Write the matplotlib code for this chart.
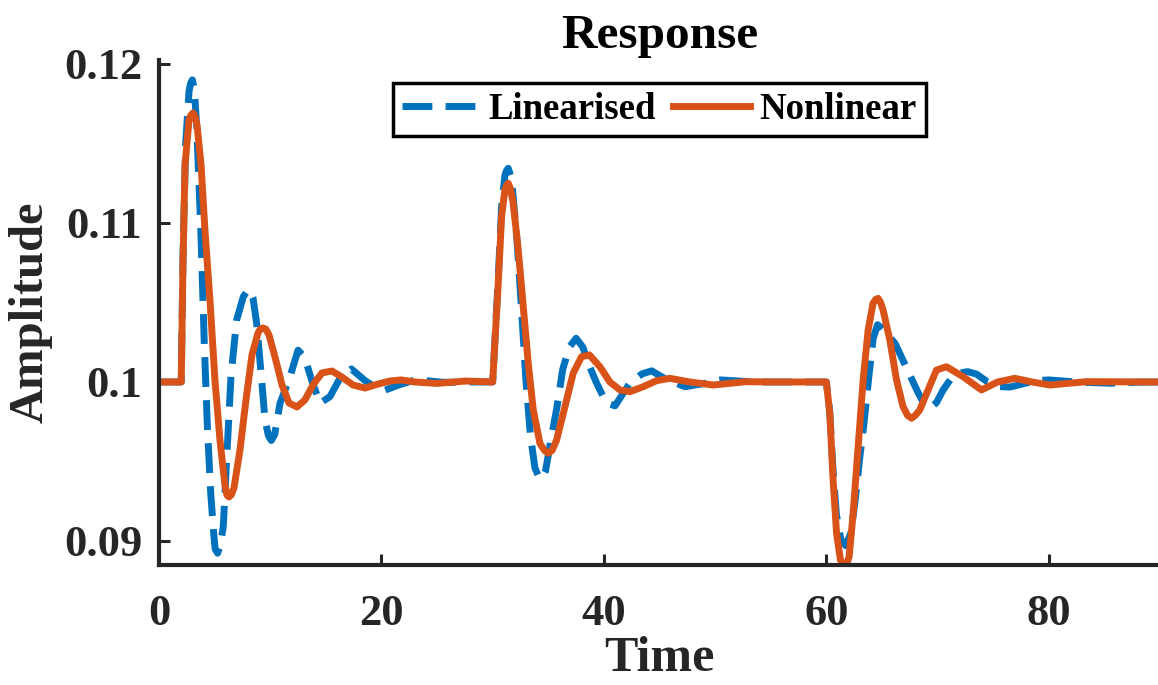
import matplotlib
matplotlib.use('Agg')
import matplotlib.pyplot as plt

# Valores: cada trecho começa num degrau da entrada (t = 2, 30, 60)

# Linearised
t_lin_1 = [0, 2.0, 2.16, 2.4, 2.7, 2.85, 3.0, 3.18, 3.39, 3.75, 4.07, 4.35,
           4.65, 4.94, 5.05, 5.27, 5.5, 5.78, 6.08, 6.47, 6.98, 7.58, 7.9, 8.18,
           8.45, 8.78, 9.23, 9.53, 9.85, 10.1, 10.4, 10.88, 11.78, 12.5, 13.1,
           13.72, 14.47, 15.37, 16.4, 17.3, 18.5, 20.0, 21.5, 23.1, 25.5, 28.0]
y_lin_1 = [0.1, 0.1, 0.1080, 0.1150, 0.1183, 0.1188, 0.1190, 0.1184, 0.11606, 0.10977, 0.10243, 0.09719,
           0.0930, 0.09027, 0.0895, 0.08923, 0.0897, 0.0909, 0.0951, 0.10033, 0.1039, 0.10536, 0.1057, 0.10579,
           0.1053, 0.10369, 0.10013, 0.09761, 0.0966, 0.09632, 0.0967, 0.09866, 0.10033, 0.1020, 0.10155,
           0.10013, 0.09866, 0.09908, 0.1004, 0.10082, 0.1001, 0.0994, 0.0998, 0.10015, 0.09998, 0.1]

t_lin_2 = [30.0, 30.5, 30.8, 31.1, 31.25, 31.4, 31.6, 31.8, 32.2, 32.6, 33.0, 33.4,
           33.8, 34.1, 34.4, 34.75, 35.2, 35.8, 36.3, 36.9, 37.5, 38.1, 38.7, 39.3,
           40.2, 41.0, 42.3, 43.4, 44.3, 45.5, 47.3, 49.0, 50.5, 53.5]
y_lin_2 = [0.1, 0.1065, 0.1110, 0.1130, 0.1133, 0.11344, 0.1130, 0.1120, 0.1088, 0.1045, 0.1000, 0.0966,
           0.0946, 0.0941, 0.0939, 0.0944, 0.0962, 0.0985, 0.1008, 0.1022, 0.10275, 0.1022, 0.1010, 0.1000,
           0.0987, 0.0985, 0.0999, 0.1005, 0.1007, 0.1002, 0.0997, 0.0999, 0.10013, 0.1]

t_lin_3 = [60.0, 60.3, 60.6, 60.9, 61.3, 61.75, 62.2, 62.6, 63.0, 63.4,
           63.8, 64.2, 64.6, 65.0, 65.5, 66.2, 66.8, 67.4, 68.2, 68.8,
           69.3, 69.9, 70.5, 71.2, 71.9, 72.7, 73.5, 74.5, 75.6, 76.5,
           77.5, 78.8, 80.0, 82.5, 85.5, 88.0, 90.0]
y_lin_3 = [0.1, 0.0982, 0.0945, 0.0917, 0.0901, 0.0897, 0.0905, 0.0926, 0.0952, 0.0975,
           0.1002, 0.1027, 0.1036, 0.1034, 0.1030, 0.1024, 0.1015, 0.1006, 0.0994, 0.0986,
           0.09834, 0.0987, 0.0995, 0.1002, 0.10055, 0.10065, 0.1005, 0.1000, 0.09971, 0.09968,
           0.09985, 0.10008, 0.10013, 0.1000, 0.09992, 0.09999, 0.1]

# Nonlinear
t_nl_1 = [0, 2.0, 2.16, 2.34, 2.70, 2.88, 3.06, 3.24, 3.42, 3.78, 4.13, 4.58,
          5.03, 5.48, 5.93, 6.1, 6.29, 6.5, 6.74, 7.28, 7.82, 8.36, 8.90, 9.1,
          9.35, 9.6, 9.89, 10.43, 11.06, 11.69, 12.40, 13.12, 13.84, 14.65, 15.55,
          16.45, 17.44, 18.52, 19.69, 20.76, 21.75, 23.0, 25.0, 27.6]
y_nl_1 = [0.1, 0.1, 0.10767, 0.11365, 0.11648, 0.11680, 0.11692, 0.11672, 0.11616, 0.11365, 0.10956, 0.10516,
          0.10013, 0.09635, 0.09352, 0.0929, 0.09277, 0.0929, 0.09333, 0.09572, 0.09887, 0.10170, 0.10308, 0.10332,
          0.10340, 0.10332, 0.10296, 0.10157, 0.09981, 0.09868, 0.09843, 0.09887, 0.09981, 0.10057, 0.10069,
          0.10031, 0.09981, 0.09962, 0.09987, 0.10006, 0.10013, 0.10000, 0.09991, 0.10006]

t_nl_2 = [30.0, 30.5, 30.8, 31.1, 31.25, 31.4, 31.6, 31.85, 32.3, 32.75, 33.2, 33.65,
          34.25, 34.65, 35.0, 35.35, 35.75, 36.5, 37.24, 37.99, 38.7, 39.64, 40.54, 41.44,
          42.34, 43.53, 44.73, 45.93, 47.73, 49.83, 52.8, 55.0]
y_nl_2 = [0.1, 0.1062, 0.1104, 0.11208, 0.11238, 0.1125, 0.11215, 0.11124, 0.1083, 0.10474, 0.10118, 0.09824,
          0.09614, 0.0957, 0.09552, 0.0957, 0.09635, 0.09845, 0.10055, 0.10159, 0.1017, 0.10096, 0.1, 0.0995,
          0.09939, 0.0997, 0.10008, 0.10023, 0.1, 0.09981, 0.10002, 0.1]

t_nl_3 = [60.0, 60.31, 60.61, 60.92, 61.27, 61.45, 61.66, 61.85, 62.05, 62.41, 62.86, 63.31,
          63.76, 64.2, 64.45, 64.66, 64.88, 65.1, 65.71, 66.31, 66.9, 67.3, 67.66, 68.0,
          68.4, 69.15, 69.9, 70.8, 72.3, 73.95, 75.4, 76.94, 78.5, 80.09, 83.4, 90.0]
y_nl_3 = [0.1, 0.09803, 0.09384, 0.09048, 0.0888, 0.0886, 0.08849, 0.0886, 0.08901, 0.09174, 0.09593, 0.10013,
          0.10327, 0.10495, 0.1052, 0.10526, 0.1050, 0.10453, 0.10264, 0.10013, 0.09845, 0.0979, 0.09772, 0.0979,
          0.09824, 0.0995, 0.10075, 0.10096, 0.10033, 0.0995, 0.1, 0.10023, 0.1, 0.09981, 0.10002, 0.1]

x_ticks = [0, 20, 40, 60, 80]
y_ticks = [0.09, 0.1, 0.11, 0.12]
y_tick_labels = ['0.09', '0.1', '0.11', '0.12']

plt.rcParams['font.family'] = ['Liberation Serif', 'DejaVu Serif']
plt.rcParams['font.weight'] = 'bold'

cinza = '#262626'

t_lin = t_lin_1 + t_lin_2 + t_lin_3
y_lin = y_lin_1 + y_lin_2 + y_lin_3
t_nl = t_nl_1 + t_nl_2 + t_nl_3
y_nl = y_nl_1 + y_nl_2 + y_nl_3

fig = plt.figure(figsize=(11.58, 6.85), dpi=100)
ax = fig.add_axes([159 / 1158, 120 / 685, 1001 / 1158, 505 / 685])

ax.plot(t_lin, y_lin, color='#0072BD', linewidth=5, dashes=(4.3, 1.9),
        label='Linearised', dash_capstyle='butt', dash_joinstyle='round')
ax.plot(t_nl, y_nl, color='#D95319', linewidth=5, label='Nonlinear',
        solid_joinstyle='round')

ax.set_xlim(0, 90)
ax.set_ylim(0.08849, 0.12025)
ax.set_xticks(x_ticks)
ax.set_yticks(y_ticks)
ax.set_yticklabels(y_tick_labels)

for lado in ['top', 'right']:
    ax.spines[lado].set_visible(False)
for lado in ['left', 'bottom']:
    ax.spines[lado].set_linewidth(3)
    ax.spines[lado].set_color(cinza)

ax.tick_params(axis='both', direction='in', length=8, width=2.2, colors=cinza,
               labelsize=32)
ax.tick_params(axis='x', pad=21)
ax.tick_params(axis='y', pad=12)
for lbl in ax.get_xticklabels() + ax.get_yticklabels():
    lbl.set_fontweight('bold')

ax.set_title('Response', fontsize=35.5, fontweight='bold', color='black', pad=9)
ax.set_xlabel('Time', fontsize=36, fontweight='bold', color=cinza, labelpad=1)
ax.set_ylabel('Amplitude', fontsize=35, fontweight='bold', color=cinza, labelpad=8)

leg = ax.legend(loc='upper center', bbox_to_anchor=(0.5, 0.955), ncol=2,
                fontsize=26.5, frameon=True, fancybox=False, framealpha=1,
                edgecolor='black', handlelength=2.1, handletextpad=0.25,
                columnspacing=0.45, borderpad=0.25, borderaxespad=0)
leg.get_frame().set_linewidth(2.5)
for txt in leg.get_texts():
    txt.set_fontweight('bold')

fig.savefig('out.png', dpi=100)
